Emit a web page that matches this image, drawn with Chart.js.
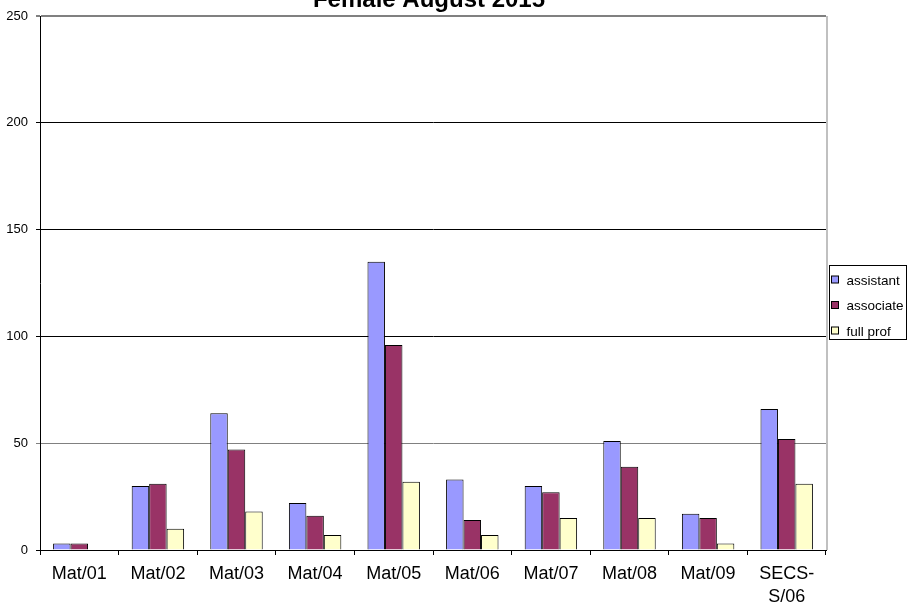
<!DOCTYPE html>
<html>
<head>
<meta charset="utf-8">
<script src="https://cdn.jsdelivr.net/npm/chart.js@4/dist/chart.umd.min.js"></script>
<style>
  html, body { margin: 0; padding: 0; background: #fff; }
  #wrap { width: 908px; height: 604px; position: relative; }
</style>
</head>
<body>
<div id="wrap"><canvas id="c" width="908" height="604"></canvas></div>
<script>
const categories = ["Mat/01", "Mat/02", "Mat/03", "Mat/04", "Mat/05", "Mat/06", "Mat/07", "Mat/08", "Mat/09", ["SECS-", "S/06"]];
const assistant = [3, 30, 64, 22, 135, 33, 30, 51, 17, 66];
const associate = [3, 31, 47, 16, 96, 14, 27, 39, 15, 52];
const fullProf  = [0, 10, 18, 7, 32, 7, 15, 15, 3, 31];
const seriesNames = ["assistant", "associate", "full prof"];
const seriesColors = ["#9999FF", "#993366", "#FFFFCC"];
const yTicks = [0, 50, 100, 150, 200, 250];
const titleText = "Female August 2015";

const FONT = "'Liberation Sans', Arial, sans-serif";

const decor = {
  id: 'decor',
  afterDraw(chart) {
    const ctx = chart.ctx;
    const a = chart.chartArea;
    ctx.save();
    // right plot border
    ctx.strokeStyle = '#c0c0c0';
    ctx.lineWidth = 2;
    ctx.beginPath();
    ctx.moveTo(a.right + 1, a.top);
    ctx.lineTo(a.right + 1, a.bottom);
    ctx.stroke();
    // title
    ctx.fillStyle = '#000';
    ctx.font = "bold 24px " + FONT;
    ctx.textAlign = 'center';
    ctx.textBaseline = 'alphabetic';
    ctx.fillText(titleText, 429, 7);
    // legend
    const lx = 829.5, ly = 265.5, lw = 77, lh = 74;
    ctx.fillStyle = '#fff';
    ctx.fillRect(lx, ly, lw, lh);
    ctx.strokeStyle = '#000';
    ctx.lineWidth = 1;
    ctx.strokeRect(lx, ly, lw, lh);
    ctx.font = "13.5px " + FONT;
    ctx.textAlign = 'left';
    chart.data.datasets.forEach((ds, i) => {
      const cy = 279.5 + i * 25.5;
      ctx.fillStyle = ds.backgroundColor;
      ctx.fillRect(831.5, cy - 3.5, 7, 7);
      ctx.strokeStyle = '#000';
      ctx.strokeRect(831.5, cy - 3.5, 7, 7);
      ctx.fillStyle = '#000';
      ctx.fillText(ds.label, 846.5, cy + 5);
    });
    ctx.restore();
  }
};

new Chart(document.getElementById('c'), {
  type: 'bar',
  data: {
    labels: categories,
    datasets: [assistant, associate, fullProf].map((d, i) => ({
      label: seriesNames[i],
      data: d,
      backgroundColor: seriesColors[i],
      borderColor: '#000',
      borderWidth: 1,
      barPercentage: 1,
      categoryPercentage: 0.667
    }))
  },
  options: {
    responsive: false,
    animation: false,
    devicePixelRatio: 1,
    layout: { padding: { top: 16, right: 82, left: 0, bottom: 0 } },
    plugins: {
      legend: { display: false },
      title: { display: false },
      tooltip: { enabled: false }
    },
    scales: {
      x: {
        afterFit(s) { s.height = 54; },
        grid: { drawOnChartArea: false, offset: true, tickLength: 5, color: '#000', lineWidth: 1 },
        border: { display: true, color: '#000', width: 1 },
        ticks: {
          color: '#000',
          font: { family: FONT, size: 18, lineHeight: 1.25 },
          padding: 8,
          maxRotation: 0,
          autoSkip: false
        }
      },
      y: {
        min: 0,
        max: 250,
        afterFit(s) { s.width = 40; },
        afterBuildTicks(s) { s.ticks = yTicks.map(v => ({ value: v })); },
        grid: {
          tickLength: 4,
          color: (c) => (c.tick && (c.tick.value === 250 || c.tick.value === 50)) ? '#808080' : '#000',
          lineWidth: (c) => (c.tick && c.tick.value === 250) ? 2 : 1
        },
        border: { display: true, color: '#000', width: 1 },
        ticks: {
          color: '#000',
          font: { family: FONT, size: 13 },
          padding: 8
        }
      }
    }
  },
  plugins: [decor]
});
</script>
</body>
</html>
